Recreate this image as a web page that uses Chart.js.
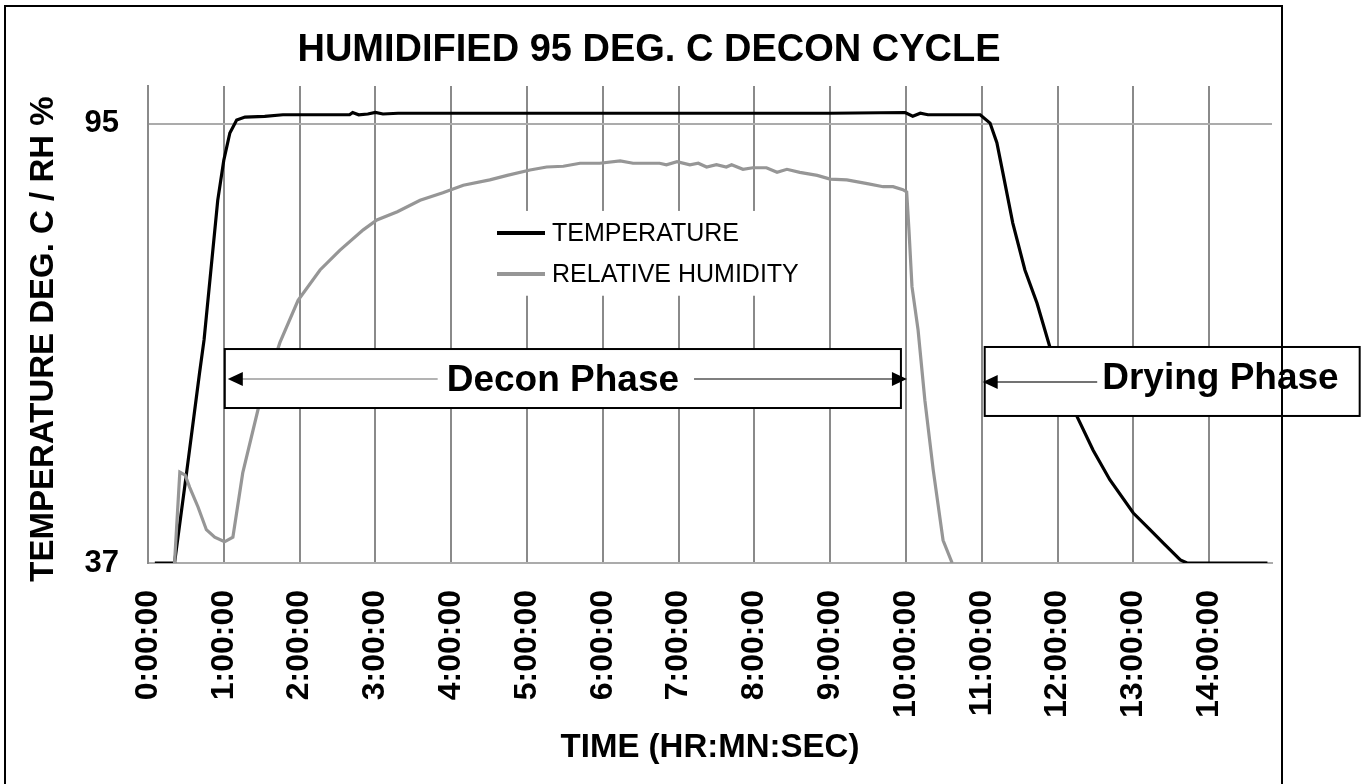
<!DOCTYPE html>
<html>
<head>
<meta charset="utf-8">
<title>Humidified 95 deg. C decon cycle</title>
<script src="https://cdn.jsdelivr.net/npm/chart.js@4.4.1/dist/chart.umd.min.js"></script>
<style>
  html, body { margin: 0; padding: 0; background: #ffffff; }
  #wrap { width: 1366px; height: 784px; }
</style>
</head>
<body>
<div id="wrap"><canvas id="c" width="1366" height="784"></canvas></div>
<script>
const FONT = "'Liberation Sans', Arial, Helvetica, sans-serif";

// Text
const chartTitle = 'HUMIDIFIED 95 DEG. C DECON CYCLE';
const yAxisTitle = 'TEMPERATURE DEG. C / RH %';
const xAxisTitle = 'TIME (HR:MN:SEC)';
const seriesNames = ['TEMPERATURE', 'RELATIVE HUMIDITY'];

// Axis ticks (x in hours, y in deg. C / %RH)
const hourTicks = [0, 1, 2, 3, 4, 5, 6, 7, 8, 9, 10, 11, 12, 13, 14];
const yTicks = [37, 95];
const yMin = 37;
const yMax = 100;
const xMax = 14.83;

// Temperature log (hours, deg. C)
const tempHours = [0.09, 0.35, 0.51, 0.68, 0.74, 0.92, 1.00, 1.08, 1.17, 1.28, 1.54, 1.78,
  2.40, 2.66, 2.70, 2.78, 2.90, 3.00, 3.10, 3.30, 5.00, 7.00, 9.00, 9.99, 10.09, 10.19,
  10.29, 10.98, 11.11, 11.20, 11.28, 11.41, 11.57, 11.73, 11.90, 12.26, 12.47, 12.69,
  13.00, 13.22, 13.40, 13.62, 13.71, 14.77];
const tempValues = [37.0, 37.0, 49.0, 62.1, 66.5, 84.9, 90.2, 93.8, 95.5, 95.9, 96.0, 96.2,
  96.2, 96.2, 96.5, 96.2, 96.3, 96.5, 96.3, 96.4, 96.4, 96.4, 96.4, 96.5, 96.0, 96.4,
  96.2, 96.2, 95.1, 92.5, 88.5, 81.9, 75.7, 71.3, 65.5, 56.3, 51.9, 48.0,
  43.6, 41.4, 39.6, 37.4, 37.0, 37.0];

// Relative humidity log (hours, %RH)
const rhHours = [0.35, 0.42, 0.49, 0.55, 0.66, 0.77, 0.88, 1.01, 1.12, 1.25, 1.45, 1.74,
  1.98, 2.27, 2.53, 2.84, 3.02, 3.29, 3.59, 3.89, 4.16, 4.51, 4.74, 5.04, 5.26, 5.48,
  5.70, 5.96, 6.23, 6.40, 6.75, 6.84, 6.98, 7.15, 7.26, 7.37, 7.50, 7.63, 7.70, 7.85,
  7.98, 8.16, 8.30, 8.43, 8.60, 8.83, 9.00, 9.22, 9.49, 9.70, 9.83, 9.96, 10.01, 10.04,
  10.08, 10.16, 10.25, 10.36, 10.49, 10.61];
const rhValues = [37.0, 49.0, 48.6, 47.0, 44.4, 41.4, 40.4, 39.8, 40.4, 48.9, 57.2, 66.1,
  71.7, 75.7, 78.3, 81.0, 82.3, 83.4, 84.9, 85.9, 86.9, 87.6, 88.2, 88.9, 89.3, 89.4,
  89.8, 89.8, 90.1, 89.8, 89.8, 89.6, 90.0, 89.6, 89.8, 89.3, 89.6, 89.3, 89.6, 89.0,
  89.2, 89.2, 88.6, 89.0, 88.6, 88.2, 87.7, 87.6, 87.1, 86.7, 86.7, 86.3, 86.0, 81.0,
  73.5, 67.8, 58.5, 49.3, 40.0, 37.0];

// Phase call-outs: box span in hours
const phaseNames = ['Decon Phase', 'Drying Phase'];
const phaseSpans = [[1, 10], [11, 16]];

const seriesColors = ['#000000', '#969696'];

function toPoints(xs, ys) {
  return xs.map((x, i) => ({ x: x, y: ys[i] }));
}

function hourLabel(v) {
  return Math.round(v) + ':00:00';
}

function arrowHead(ctx, tipX, y, dir) {
  ctx.beginPath();
  ctx.moveTo(tipX, y);
  ctx.lineTo(tipX - dir * 15, y - 7);
  ctx.lineTo(tipX - dir * 15, y + 7);
  ctx.closePath();
  ctx.fillStyle = '#000000';
  ctx.fill();
}

function hLine(ctx, x1, x2, y, color) {
  ctx.beginPath();
  ctx.moveTo(x1, y);
  ctx.lineTo(x2, y);
  ctx.strokeStyle = color;
  ctx.lineWidth = 1.5;
  ctx.stroke();
}

const decorations = {
  id: 'decorations',
  beforeDraw(chart) {
    const ctx = chart.ctx;
    ctx.save();
    ctx.fillStyle = '#ffffff';
    ctx.fillRect(0, 0, chart.width, chart.height);
    ctx.restore();
  },
  beforeDatasetsDraw(chart) {
    // legend panel inside the plot
    const ctx = chart.ctx;
    const xs = chart.scales.x, ys = chart.scales.y;
    ctx.save();
    ctx.fillStyle = '#ffffff';
    const left = xs.getPixelForValue(4.45);
    const right = xs.getPixelForValue(8.8);
    const top = ys.getPixelForValue(83.5);
    const bottom = ys.getPixelForValue(72.3);
    ctx.fillRect(left, top, right - left, bottom - top);
    ctx.font = '25px ' + FONT;
    ctx.textAlign = 'left';
    ctx.textBaseline = 'middle';
    const rowY = [233, 274];
    chart.data.datasets.forEach((ds, i) => {
      const y = rowY[i];
      ctx.beginPath();
      ctx.moveTo(497, y);
      ctx.lineTo(545, y);
      ctx.strokeStyle = ds.borderColor;
      ctx.lineWidth = 4;
      ctx.stroke();
      ctx.fillStyle = '#000000';
      ctx.fillText(ds.label, 552, y + 1);
    });
    ctx.restore();
  },
  afterDatasetsDraw(chart) {
    const ctx = chart.ctx;
    const xs = chart.scales.x, ys = chart.scales.y;
    ctx.save();
    ctx.font = 'bold 37px ' + FONT;
    ctx.textBaseline = 'middle';

    // Decon phase: arrows to both ends of the span
    {
      const [a, b] = phaseSpans[0];
      const bl = xs.getPixelForValue(a) + 1;
      const br = xs.getPixelForValue(b) - 5;
      const top = ys.getPixelForValue(65.26);
      const bottom = ys.getPixelForValue(57.47);
      const ay = ys.getPixelForValue(61.3);
      const ty = ys.getPixelForValue(61.0);
      ctx.fillStyle = '#ffffff';
      ctx.fillRect(bl, top, br - bl, bottom - top);
      ctx.strokeStyle = '#000000';
      ctx.lineWidth = 2;
      ctx.strokeRect(bl, top, br - bl, bottom - top);
      const cx = (bl + br) / 2;
      const w = ctx.measureText(phaseNames[0]).width;
      ctx.fillStyle = '#000000';
      ctx.textAlign = 'center';
      ctx.fillText(phaseNames[0], cx, ty);
      const lTip = xs.getPixelForValue(a) + 4;
      const rTip = xs.getPixelForValue(b) + 1;
      hLine(ctx, lTip + 12, cx - w / 2 - 9, ay, '#9a9a9a');
      hLine(ctx, cx + w / 2 + 15, rTip - 12, ay, '#555555');
      arrowHead(ctx, lTip, ay, -1);
      arrowHead(ctx, rTip, ay, 1);
    }

    // Drying phase: arrow back to the start of the span
    {
      const [a, b] = phaseSpans[1];
      const bl = xs.getPixelForValue(a) + 3;
      const br = xs.getPixelForValue(b) - 1;
      const top = ys.getPixelForValue(65.53);
      const bottom = ys.getPixelForValue(56.42);
      const ay = ys.getPixelForValue(60.91);
      const ty = ys.getPixelForValue(61.37);
      ctx.fillStyle = '#ffffff';
      ctx.fillRect(bl, top, br - bl, bottom - top);
      ctx.strokeStyle = '#000000';
      ctx.lineWidth = 2;
      ctx.strokeRect(bl, top, br - bl, bottom - top);
      const w = ctx.measureText(phaseNames[1]).width;
      const tr = br - 21;
      ctx.fillStyle = '#000000';
      ctx.textAlign = 'right';
      ctx.fillText(phaseNames[1], tr, ty);
      const lTip = xs.getPixelForValue(a) + 1;
      hLine(ctx, lTip + 12, tr - w - 5, ay, '#444444');
      arrowHead(ctx, lTip, ay, -1);
    }
    ctx.restore();
  },
  afterDraw(chart) {
    const ctx = chart.ctx;
    ctx.save();
    // chart title
    ctx.fillStyle = '#000000';
    ctx.font = 'bold 38px ' + FONT;
    ctx.textAlign = 'center';
    ctx.textBaseline = 'middle';
    ctx.fillText(chartTitle, 649, 51);
    // value axis title
    ctx.save();
    ctx.translate(44, 339);
    ctx.rotate(-Math.PI / 2);
    ctx.font = 'bold 33px ' + FONT;
    ctx.fillText(yAxisTitle, 0, 0);
    ctx.restore();
    // chart frame
    ctx.strokeStyle = '#000000';
    ctx.lineWidth = 2;
    ctx.strokeRect(5, 6, 1277, 800);
    ctx.restore();
  }
};

new Chart(document.getElementById('c'), {
  type: 'line',
  data: {
    datasets: [
      {
        label: seriesNames[0],
        data: toPoints(tempHours, tempValues),
        borderColor: seriesColors[0],
        borderWidth: 3.2,
        pointRadius: 0,
        tension: 0,
        fill: false,
        order: 1
      },
      {
        label: seriesNames[1],
        data: toPoints(rhHours, rhValues),
        borderColor: seriesColors[1],
        borderWidth: 3.2,
        pointRadius: 0,
        tension: 0,
        fill: false,
        order: 0
      }
    ]
  },
  options: {
    responsive: false,
    animation: false,
    devicePixelRatio: 1,
    layout: { padding: { left: 0, right: 94, top: 86, bottom: 0 } },
    plugins: {
      legend: { display: false },
      title: { display: false },
      tooltip: { enabled: false }
    },
    scales: {
      x: {
        type: 'linear',
        min: 0,
        max: xMax,
        afterBuildTicks(scale) { scale.ticks = hourTicks.map(v => ({ value: v })); },
        afterFit(scale) { scale.height = 221; },
        grid: { color: '#8a8a8a', lineWidth: 2, drawTicks: false },
        border: { display: true, color: '#ababab', width: 2 },
        ticks: {
          autoSkip: false,
          minRotation: 90,
          maxRotation: 90,
          padding: 27,
          color: '#000000',
          font: { family: FONT, size: 32, weight: 'bold' },
          callback: (v) => hourLabel(v)
        },
        title: {
          display: true,
          text: xAxisTitle,
          color: '#000000',
          font: { family: FONT, size: 33, weight: 'bold' },
          padding: { top: 0, bottom: 16 }
        }
      },
      y: {
        type: 'linear',
        min: yMin,
        max: yMax,
        afterBuildTicks(scale) { scale.ticks = yTicks.map(v => ({ value: v })); },
        afterFit(scale) { scale.width = 148; },
        grid: { color: '#ababab', lineWidth: 2, drawTicks: false },
        border: { display: true, color: '#8a8a8a', width: 2 },
        ticks: {
          padding: 29,
          color: '#000000',
          font: { family: FONT, size: 31, weight: 'bold' }
        }
      }
    }
  },
  plugins: [decorations]
});
</script>
</body>
</html>
